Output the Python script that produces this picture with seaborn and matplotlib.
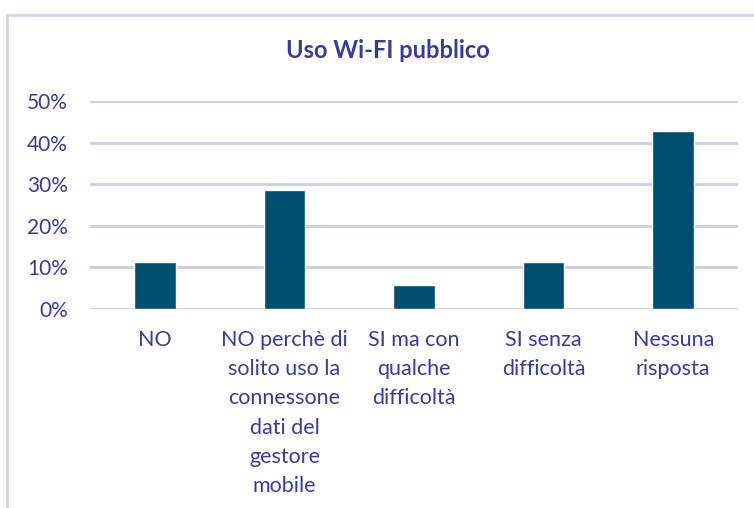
import matplotlib
matplotlib.use("Agg")
import matplotlib.pyplot as plt
import seaborn as sns
import pandas as pd
from matplotlib.patches import Rectangle
from matplotlib.ticker import PercentFormatter

categories = [
    "NO",
    "NO perchè di\nsolito uso la\nconnessone\ndati del\ngestore\nmobile",
    "SI ma con\nqualche\ndifficoltà",
    "SI senza\ndifficoltà",
    "Nessuna\nrisposta",
]
values = [11.4, 28.6, 5.7, 11.4, 42.9]
yticks = [0, 10, 20, 30, 40, 50]

title = "Uso Wi-FI pubblico"

bar_color = "#004f71"
text_color = "#3a3a9c"
grid_color = "#d2cdee"

sns.set_theme(style="white")
plt.rcParams["font.family"] = ["Lato", "DejaVu Sans"]

W, H = 754, 508
fig = plt.figure(figsize=(W / 100, H / 100), dpi=100)
ax = fig.add_axes([90 / W, 1 - 309 / H, (738 - 90) / W, (309 - 101) / H])

df = pd.DataFrame({"cat": categories, "val": values})
sns.barplot(data=df, x="cat", y="val", color=bar_color, width=0.32,
            saturation=1, ax=ax, zorder=3)

ax.set_ylim(0, 50)
ax.set_yticks(yticks)
ax.yaxis.set_major_formatter(PercentFormatter(decimals=0))
ax.set_xlabel("")
ax.set_ylabel("")
for s in ax.spines.values():
    s.set_visible(False)
ax.grid(axis="y", color=grid_color, linewidth=2.2, zorder=0)
ax.grid(axis="x", visible=False)
ax.set_axisbelow(True)
ax.tick_params(axis="y", length=0, pad=16, labelsize=15, labelcolor=text_color)
ax.tick_params(axis="x", length=0, pad=15, labelsize=15.5, labelcolor=text_color)
for lbl in ax.get_xticklabels():
    lbl.set_linespacing(1.58)
    lbl.set_verticalalignment("top")

fig.text(388 / W, 1 - 50 / H, title, ha="center", va="center",
         fontsize=17, fontweight="bold", color=text_color)

fig.patches.append(Rectangle((7 / W, -0.1), 1.2, 1 - 15 / H + 0.1,
                             transform=fig.transFigure, fill=False,
                             edgecolor=grid_color, linewidth=1.8, clip_on=False))

fig.savefig("out.png", dpi=100)
